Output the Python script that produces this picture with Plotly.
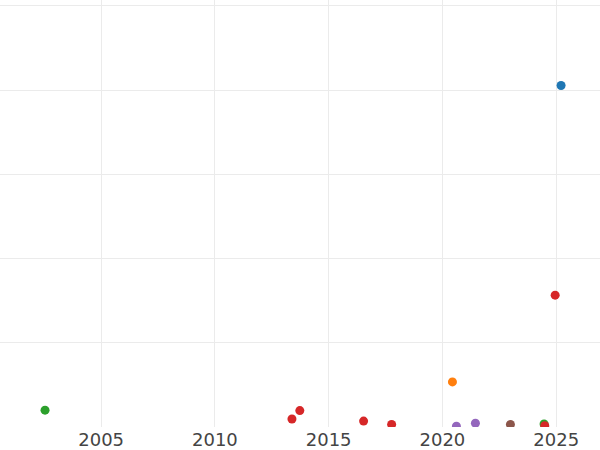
import plotly.graph_objects as go

# series data (date, value)
blue_x = ["2025-03-20"]
blue_y = [81.1]
orange_x = ["2020-06-10"]
orange_y = [10.7]
green_x = ["2002-07-15", "2024-06-20"]
green_y = [4.0, 0.7]
red_x = ["2013-05-22", "2013-09-25", "2016-07-15", "2017-10-08", "2024-07-01", "2024-12-15"]
red_y = [1.9, 3.9, 1.4, 0.6, 0.3, 31.3]
purple_x = ["2020-08-13", "2021-06-14"]
purple_y = [0.2, 0.9]
brown_x = ["2022-12-28"]
brown_y = [0.6]

series = [
    ("A", blue_x, blue_y, "#1f77b4"),
    ("B", orange_x, orange_y, "#ff7f0e"),
    ("C", green_x, green_y, "#2ca02c"),
    ("D", red_x, red_y, "#d62728"),
    ("E", purple_x, purple_y, "#9467bd"),
    ("F", brown_x, brown_y, "#8c564b"),
]

fig = go.Figure()
for name, xs, ys, col in series:
    fig.add_trace(go.Scatter(x=xs, y=ys, mode="markers", name=name,
                             marker=dict(color=col, size=9)))

fig.update_layout(
    width=600, height=450,
    margin=dict(l=0, r=0, t=0, b=23),
    paper_bgcolor="white", plot_bgcolor="white",
    showlegend=False,
    font=dict(family="DejaVu Sans", size=18, color="#444"),
)
fig.update_xaxes(
    type="date",
    range=["2000-07-22", "2026-12-05"],
    tickvals=["2005-01-01", "2010-01-01", "2015-01-01", "2020-01-01", "2025-01-01"],
    ticktext=["2005", "2010", "2015", "2020", "2025"],
    showgrid=True, gridcolor="#ebebeb", gridwidth=1,
    showline=False, zeroline=False, ticks="",
)
fig.update_yaxes(
    range=[0, 101.4],
    tickvals=[0, 20, 40, 60, 80, 100],
    showticklabels=False,
    showgrid=True, gridcolor="#ebebeb", gridwidth=1,
    zeroline=False, showline=False, ticks="",
)

fig.write_html("out.html", config={"displayModeBar": False},
               post_script="document.body.style.margin='0';document.body.style.overflow='hidden';")
